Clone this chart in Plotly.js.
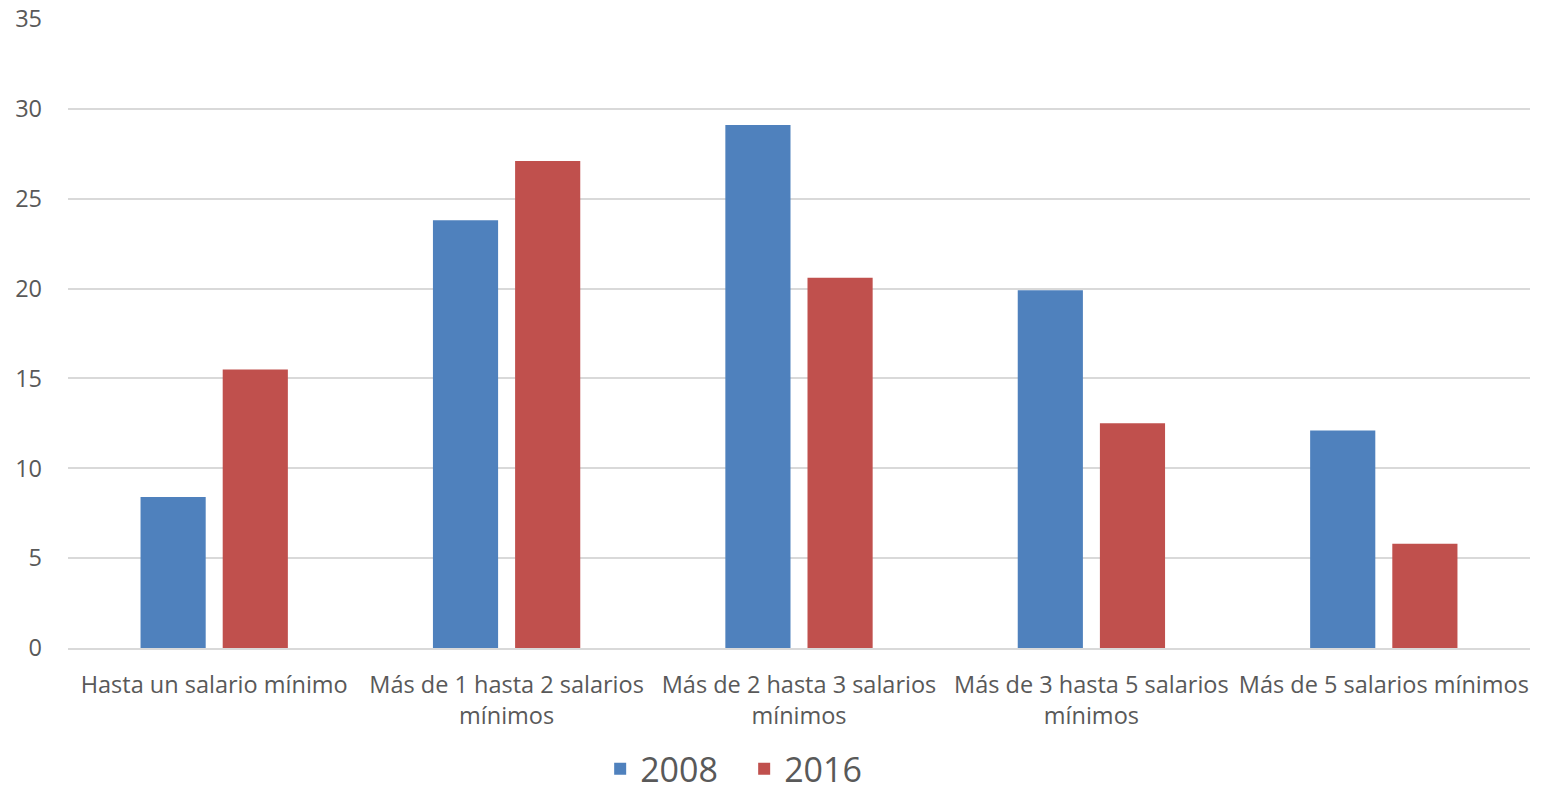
<!DOCTYPE html>
<html>
<head>
<meta charset="utf-8">
<script src="https://cdn.plot.ly/plotly-3.0.1.min.js"></script>
<style>html,body{margin:0;padding:0;background:#fff;}#chart{width:1544px;height:798px;}</style>
</head>
<body>
<div id="chart"></div>
<script>
const categories = [
  "Hasta un salario mínimo",
  "Más de 1 hasta 2 salarios<br>mínimos",
  "Más de 2 hasta 3 salarios<br>mínimos",
  "Más de 3 hasta 5 salarios<br>mínimos",
  "Más de 5 salarios mínimos"
];
const values2008 = [8.4, 23.8, 29.1, 19.9, 12.1];
const values2016 = [15.5, 27.1, 20.6, 12.5, 5.8];
const yTicks = [0, 5, 10, 15, 20, 25, 30, 35];

const FONT = "'Open Sans', sans-serif";
const data = [
  {type: 'bar', name: '2008', x: categories, y: values2008, marker: {color: '#4F81BD'}},
  {type: 'bar', name: '2016', x: categories, y: values2016, marker: {color: '#C0504D'}}
];
const layout = {
  width: 1544, height: 798,
  margin: {l: 68, r: 14, t: 19, b: 150},
  paper_bgcolor: '#fff', plot_bgcolor: '#fff',
  barmode: 'group', bargap: 0.438, bargroupgap: 0.207,
  font: {family: FONT, color: '#595959'},
  showlegend: true,
  legend: {orientation: 'h', x: 0.364, xanchor: 'left', yref: 'container', y: 0.036, yanchor: 'middle',
           font: {size: 34, color: '#595959', family: FONT}, itemwidth: 30,
           entrywidth: 99, entrywidthmode: 'pixels'},
  xaxis: {type: 'category', showgrid: false, showline: true, linecolor: '#D9D9D9', linewidth: 2,
          automargin: false,
          tickfont: {size: 23.5, color: '#595959', family: FONT}, ticks: '', ticklabelstandoff: 15},
  yaxis: {range: [0, 35], tickvals: yTicks, ticktext: yTicks.map(String), showgrid: true,
          automargin: false,
          gridcolor: '#D9D9D9', gridwidth: 2, zeroline: false, showline: false,
          tickfont: {size: 23.5, color: '#595959', family: FONT}, ticks: '', ticklabelstandoff: 25}
};
Plotly.newPlot('chart', data, layout, {staticPlot: true});
</script>
</body>
</html>
